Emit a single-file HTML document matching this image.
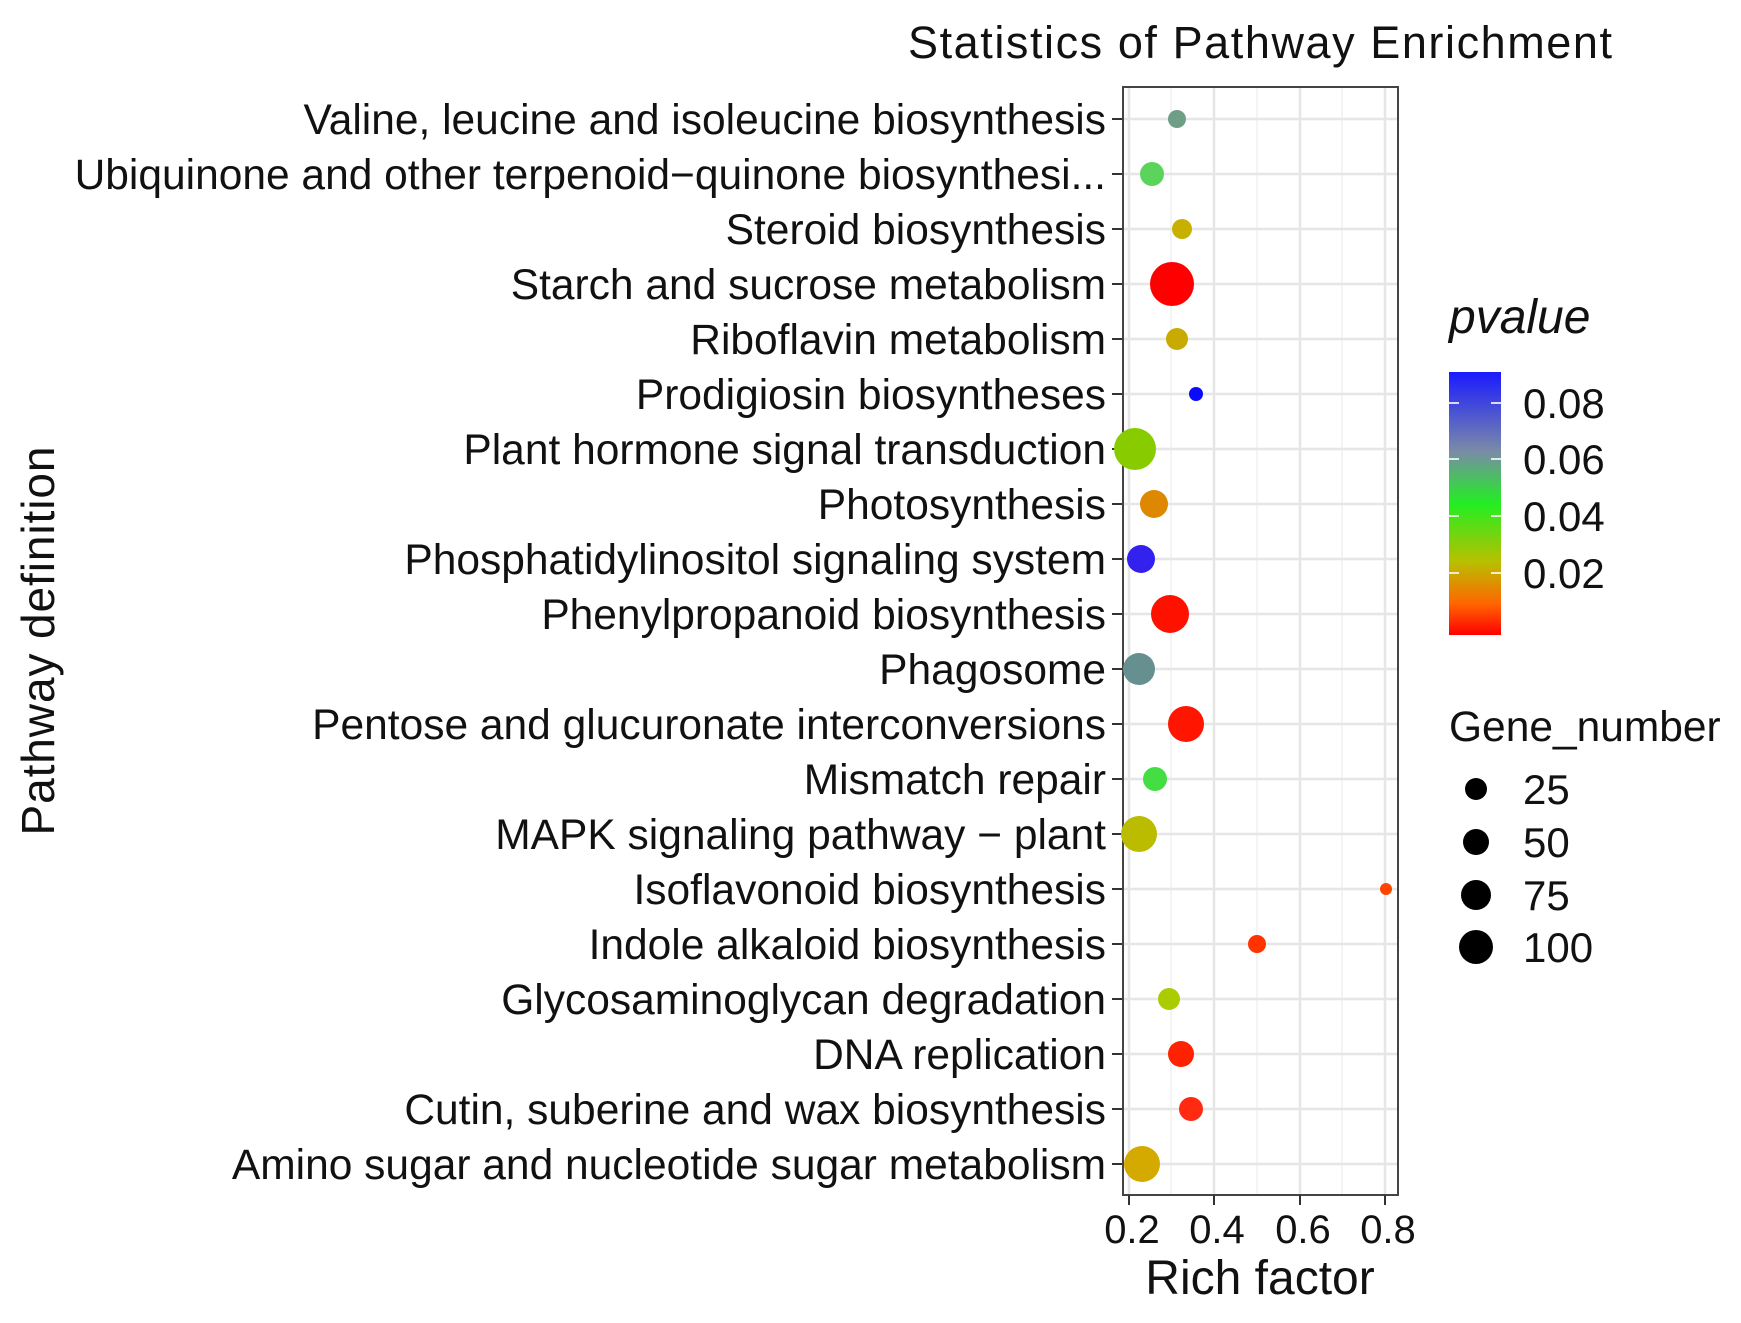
<!DOCTYPE html>
<html><head><meta charset="utf-8"><style>html,body{margin:0;padding:0;background:#fff}svg{display:block}</style></head>
<body>
<svg width="1741" height="1323" viewBox="0 0 1741 1323" xmlns="http://www.w3.org/2000/svg" font-family="Liberation Sans, sans-serif">
<defs>
<linearGradient id="pg" x1="0" y1="0" x2="0" y2="1">
<stop offset="0" stop-color="#1a1aff"/>
<stop offset="0.3" stop-color="#7a8aa8"/>
<stop offset="0.5" stop-color="#22ee22"/>
<stop offset="0.72" stop-color="#b8c000"/>
<stop offset="0.88" stop-color="#ff6600"/>
<stop offset="1" stop-color="#ff0000"/>
</linearGradient>
</defs>
<text x="908" y="58" font-size="45" textLength="704" fill="#111">Statistics of Pathway Enrichment</text>
<rect x="1123" y="87" width="275" height="1108" fill="#fff"/>
<g stroke="#ececec" stroke-width="1.2">
<line x1="1171" y1="87" x2="1171" y2="1195"/><line x1="1257" y1="87" x2="1257" y2="1195"/><line x1="1342" y1="87" x2="1342" y2="1195"/>
</g>
<g stroke="#e6e6e6" stroke-width="2.5">
<line x1="1129" y1="87" x2="1129" y2="1195"/><line x1="1214" y1="87" x2="1214" y2="1195"/><line x1="1300" y1="87" x2="1300" y2="1195"/><line x1="1385" y1="87" x2="1385" y2="1195"/>
</g>
<g stroke="#e6e6e6" stroke-width="2.5" id="hg"></g>
<g id="rows" font-size="42.5" fill="#111" text-anchor="end"></g>
<rect x="1123" y="87" width="275" height="1108" fill="none" stroke="#444" stroke-width="2"/>
<g stroke="#333" stroke-width="2">
<line x1="1129" y1="1195" x2="1129" y2="1205"/><line x1="1214" y1="1195" x2="1214" y2="1205"/><line x1="1300" y1="1195" x2="1300" y2="1205"/><line x1="1385" y1="1195" x2="1385" y2="1205"/>
</g>
<g font-size="40" fill="#111" text-anchor="middle">
<text x="1132" y="1243">0.2</text><text x="1217" y="1243">0.4</text><text x="1303" y="1243">0.6</text><text x="1388" y="1243">0.8</text>
</g>
<text x="1260" y="1294" font-size="48" text-anchor="middle" fill="#111">Rich factor</text>
<text transform="translate(54,641) rotate(-90)" font-size="46" text-anchor="middle" textLength="389" fill="#111">Pathway definition</text>
<text x="1449" y="333" font-size="48" font-style="italic" fill="#111">pvalue</text>
<rect x="1449" y="372" width="52" height="263" fill="url(#pg)"/>
<g stroke="#fff" stroke-width="2" opacity="0.8">
<line x1="1449" y1="403" x2="1459" y2="403"/><line x1="1491" y1="403" x2="1501" y2="403"/>
<line x1="1449" y1="459" x2="1459" y2="459"/><line x1="1491" y1="459" x2="1501" y2="459"/>
<line x1="1449" y1="516" x2="1459" y2="516"/><line x1="1491" y1="516" x2="1501" y2="516"/>
<line x1="1449" y1="573" x2="1459" y2="573"/><line x1="1491" y1="573" x2="1501" y2="573"/>
</g>
<g font-size="42" fill="#111">
<text x="1523" y="418">0.08</text><text x="1523" y="474">0.06</text><text x="1523" y="531">0.04</text><text x="1523" y="588">0.02</text>
</g>
<text x="1449" y="741" font-size="42.5" fill="#111">Gene_number</text>
<g fill="#000">
<circle cx="1476" cy="789" r="11"/><circle cx="1476" cy="842" r="13"/><circle cx="1476" cy="895" r="15"/><circle cx="1476" cy="947" r="17"/>
</g>
<g font-size="42" fill="#111">
<text x="1523" y="804">25</text><text x="1523" y="857">50</text><text x="1523" y="910">75</text><text x="1523" y="962">100</text>
</g>
<g id="pts"></g>
<script>
var d=[
["Valine, leucine and isoleucine biosynthesis",1177,9,"#6f9e86"],
["Ubiquinone and other terpenoid\u2212quinone biosynthesi...",1152,12,"#5ad45a"],
["Steroid biosynthesis",1182,10,"#c8b000"],
["Starch and sucrose metabolism",1172,22,"#ff0000"],
["Riboflavin metabolism",1177,11,"#c8aa00"],
["Prodigiosin biosyntheses",1196,7,"#0a0aff"],
["Plant hormone signal transduction",1135,21,"#88cc00"],
["Photosynthesis",1154,14,"#dd8800"],
["Phosphatidylinositol signaling system",1141,14,"#3322ee"],
["Phenylpropanoid biosynthesis",1170,19,"#ff1100"],
["Phagosome",1139,16,"#66908f"],
["Pentose and glucuronate interconversions",1186,18,"#ff1500"],
["Mismatch repair",1155,12,"#44dd44"],
["MAPK signaling pathway \u2212 plant",1139,18,"#bbbb00"],
["Isoflavonoid biosynthesis",1386,6,"#ff4400"],
["Indole alkaloid biosynthesis",1257,9,"#ff3300"],
["Glycosaminoglycan degradation",1169,11,"#aacc00"],
["DNA replication",1181,13,"#ff2200"],
["Cutin, suberine and wax biosynthesis",1191,12,"#ff2a10"],
["Amino sugar and nucleotide sugar metabolism",1142,18,"#d4aa00"]];
var ns="http://www.w3.org/2000/svg",hg=document.getElementById("hg"),rows=document.getElementById("rows"),pts=document.getElementById("pts");
d.forEach(function(r,i){var y=119+i*55;
var l=document.createElementNS(ns,"line");l.setAttribute("x1",1123);l.setAttribute("x2",1398);l.setAttribute("y1",y);l.setAttribute("y2",y);hg.appendChild(l);
var t=document.createElementNS(ns,"text");t.setAttribute("x",1106);t.setAttribute("y",y+15);t.textContent=r[0];rows.appendChild(t);
var k=document.createElementNS(ns,"line");k.setAttribute("x1",1112);k.setAttribute("x2",1123);k.setAttribute("y1",y);k.setAttribute("y2",y);k.setAttribute("stroke","#333");k.setAttribute("stroke-width",2);rows.appendChild(k);
var c=document.createElementNS(ns,"circle");c.setAttribute("cx",r[1]);c.setAttribute("cy",y);c.setAttribute("r",r[2]);c.setAttribute("fill",r[3]);pts.appendChild(c);});
</script>
</svg>
</body></html>
